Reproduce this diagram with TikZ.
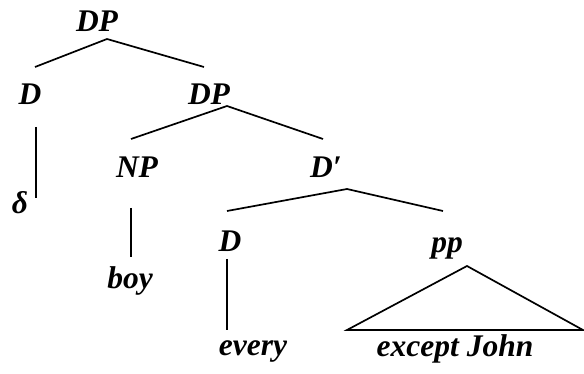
\documentclass[tikz,border=0pt]{standalone}
\usepackage{fontspec}
\setmainfont{Liberation Serif}
\begin{document}
\begin{tikzpicture}[x=1pt,y=-1pt,
  lab/.style={inner sep=0pt,anchor=base,font=\fontsize{31.5}{36}\selectfont\bfseries\itshape},
  br/.style={line width=1.7pt}]
\useasboundingbox (0,0) rectangle (584,374);
% labels
\node[lab] (DP) at (97,32) {DP};
\node[lab] (D1) at (30,105) {D};
\node[lab] (DP2) at (209,105) {DP};
\node[lab] (delta) at (20,214) {δ};
\node[lab] (NP) at (137,178) {NP};
\node[lab] (Dbar) at (326,178) {D′};
\node[lab] (boy) at (130,288) {boy};
\node[lab] (D2) at (230,252) {D};
\node[lab] (pp) at (447,253) {pp};
\node[lab] (every) at (253,355) {every};
\node[lab] (exc) at (455,356) {except John};
% branch points
\coordinate (DP-a) at (107,39);
\coordinate (D1-t) at (35,67);
\coordinate (DP2-t) at (204,67);
\coordinate (DP2-a) at (227,106);
\coordinate (NP-t) at (131,139);
\coordinate (Dbar-t) at (323,139);
\coordinate (Dbar-a) at (347,189);
\coordinate (D2-t) at (227,211);
\coordinate (pp-t) at (443,211);
\coordinate (D1-b) at (36,127);
\coordinate (delta-t) at (36,198);
\coordinate (NP-b) at (131,208);
\coordinate (boy-t) at (131,257);
\coordinate (D2-b) at (227,259);
\coordinate (every-t) at (227,330);
\coordinate (pp-a) at (467,266);
\coordinate (exc-l) at (347,330);
\coordinate (exc-r) at (583,330);
% branches
\draw[br] (D1-t) -- (DP-a) -- (DP2-t);
\draw[br] (NP-t) -- (DP2-a) -- (Dbar-t);
\draw[br] (D2-t) -- (Dbar-a) -- (pp-t);
\draw[br] (D1-b) -- (delta-t);
\draw[br] (NP-b) -- (boy-t);
\draw[br] (D2-b) -- (every-t);
\draw[br,line join=miter] (exc-l) -- (pp-a) -- (exc-r) -- cycle;
\end{tikzpicture}
\end{document}
